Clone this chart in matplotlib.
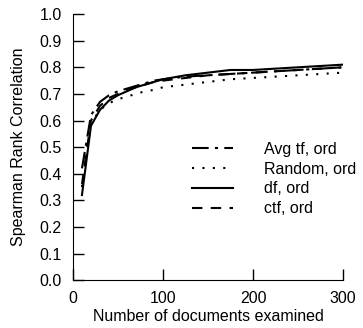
import matplotlib
matplotlib.use("Agg")
import matplotlib.pyplot as plt

docs = [10, 20, 30, 40, 50, 60, 70, 80, 90, 100, 125, 150, 175, 200, 225, 250, 275, 300]
avg_tf = [0.42, 0.62, 0.67, 0.695, 0.71, 0.72, 0.73, 0.74, 0.75, 0.755, 0.765, 0.77, 0.775, 0.78, 0.785, 0.79, 0.795, 0.80]
random_ord = [0.35, 0.59, 0.64, 0.665, 0.68, 0.69, 0.70, 0.71, 0.715, 0.725, 0.735, 0.745, 0.755, 0.76, 0.765, 0.77, 0.775, 0.78]
df_ord = [0.32, 0.58, 0.64, 0.675, 0.695, 0.71, 0.725, 0.735, 0.745, 0.755, 0.77, 0.78, 0.79, 0.79, 0.795, 0.80, 0.805, 0.81]
ctf_ord = [0.36, 0.60, 0.655, 0.685, 0.70, 0.715, 0.725, 0.735, 0.745, 0.75, 0.76, 0.77, 0.775, 0.78, 0.785, 0.79, 0.795, 0.80]

labels = ["Avg tf, ord", "Random, ord", "df, ord", "ctf, ord"]
xticks = [0, 100, 200, 300]
yticks = [0.0, 0.1, 0.2, 0.3, 0.4, 0.5, 0.6, 0.7, 0.8, 0.9, 1.0]

plt.rcParams['font.family'] = ['Liberation Sans', 'DejaVu Sans']
fig = plt.figure(figsize=(3.63, 3.28), dpi=100)
ax = fig.add_axes([0.201, 0.146, 0.744, 0.811])

ax.plot(docs, avg_tf, color='black', lw=1.5, linestyle=(0, (8, 3, 1.5, 3)), label=labels[0])
ax.plot(docs, random_ord, color='black', lw=1.5, linestyle=(0, (1, 4)), label=labels[1])
ax.plot(docs, df_ord, color='black', lw=1.5, linestyle='-', label=labels[2])
ax.plot(docs, ctf_ord, color='black', lw=1.5, linestyle=(0, (5, 4)), label=labels[3])

ax.set_xlim(0, 300)
ax.set_ylim(0, 1.0)
ax.set_xticks(xticks)
ax.set_yticks(yticks)
ax.set_yticklabels([f"{v:.1f}" for v in yticks])
ax.tick_params(direction='in', length=8, width=1, labelsize=11.5)
ax.tick_params(axis='y', pad=8)
ax.tick_params(axis='x', pad=8)
ax.spines['top'].set_visible(False)
ax.spines['right'].set_visible(False)
ax.set_xlabel("Number of documents examined", fontsize=11.5, labelpad=2)
ax.set_ylabel("Spearman Rank Correlation", fontsize=11.5, labelpad=10)

leg = ax.legend(loc='upper left', bbox_to_anchor=(0.41, 0.55), frameon=False, fontsize=11.5,
                handlelength=2.6, handletextpad=1.95, labelspacing=0.3, borderpad=0)

fig.savefig("out.png", dpi=100)
